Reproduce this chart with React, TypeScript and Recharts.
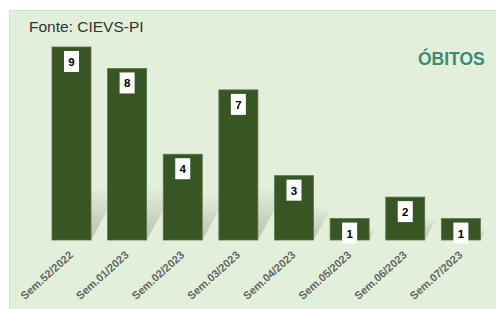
import React from "react"
import { BarChart, Bar, XAxis, YAxis, LabelList } from "recharts"

const weeks = [
  "Sem.52/2022",
  "Sem.01/2023",
  "Sem.02/2023",
  "Sem.03/2023",
  "Sem.04/2023",
  "Sem.05/2023",
  "Sem.06/2023",
  "Sem.07/2023",
]
const obitos = [9, 8, 4, 7, 3, 1, 2, 1]

const data = weeks.map((w, i) => ({ week: w, obitos: obitos[i] }))

const BAR = "#375623"

function ShadowBar(props: any) {
  const x = Number(props.x)
  const y = Number(props.y)
  const width = Number(props.width)
  const height = Number(props.height)
  const yb = y + height
  const sh = Math.min(height * 0.5, 50)
  const lean = sh * 0.55
  // stacked translucent slices fading upward, a soft cast shadow
  const steps = 10
  const slices = []
  for (let s = 0; s < steps; s++) {
    const t0 = s / steps
    const t1 = (s + 1) / steps
    const pts = `${x + lean * t0},${yb - sh * t0} ${x + width + lean * t0},${yb - sh * t0} ${x + width + lean * t1},${yb - sh * t1} ${x + lean * t1},${yb - sh * t1}`
    slices.push(<polygon key={s} points={pts} fill="#80887b" fillOpacity={0.42 * (1 - t0)} />)
  }
  return (
    <g>
      {slices}
      <rect x={x} y={y} width={width} height={height} fill={BAR} stroke="#58774a" strokeWidth={0.8} />
    </g>
  )
}

function ValueLabel(props: any) {
  const { x, y, width, value } = props
  const cx = x + width / 2
  return (
    <g>
      <rect x={cx - 7.5} y={y + 4} width={15} height={21} fill="#ffffff" />
      <text
        x={cx}
        y={y + 19}
        textAnchor="middle"
        fontFamily="Liberation Sans, Arial, sans-serif"
        fontWeight="bold"
        fontSize={11.5}
        fill="#000000"
      >
        {value}
      </text>
    </g>
  )
}

function WeekTick(props: any) {
  const { x, y, payload } = props
  const ax = x + 2
  const ay = y + 8
  return (
    <text
      x={ax}
      y={ay}
      textAnchor="end"
      transform={`rotate(-42, ${ax}, ${ay})`}
      fontFamily="Liberation Sans, Arial, sans-serif"
      fontWeight="bold"
      fontSize={11}
      fill="#666666"
    >
      {payload.value}
    </text>
  )
}

export default function App() {
  return (
    <div style={{ position: "fixed", left: 0, top: 0, width: 496, height: 309, background: "#ffffff" }}>
      <div
        style={{
          position: "absolute",
          left: 9,
          top: 10,
          width: 487,
          height: 299,
          background: "#e2efda",
          borderTop: "1px solid #d9d9d9",
          borderLeft: "1px solid #d9d9d9",
          boxSizing: "border-box",
        }}
      />
      <div
        style={{
          position: "absolute",
          left: 29,
          top: 18,
          fontFamily: "Liberation Sans, Arial, sans-serif",
          fontSize: 15.5,
          color: "#333333",
        }}
      >
        Fonte: CIEVS-PI
      </div>
      <div
        style={{
          position: "absolute",
          left: 418,
          top: 49,
          fontFamily: "Liberation Sans, Arial, sans-serif",
          fontSize: 17.5,
          fontWeight: "bold",
          color: "#3b8a78",
        }}
      >
        ÓBITOS
      </div>
      <div style={{ position: "absolute", left: 0, top: 0 }}>
        <BarChart width={496} height={309} data={data} margin={{ top: 47, right: 7, left: 44, bottom: 0 }}>
          <XAxis
            dataKey="week"
            height={69}
            axisLine={false}
            tickLine={false}
            interval={0}
            tick={<WeekTick />}
          />
          <YAxis hide domain={[0, 9]} />
          <Bar dataKey="obitos" barSize={39} shape={(p: any) => <ShadowBar {...p} />} isAnimationActive={false}>
            <LabelList dataKey="obitos" content={<ValueLabel />} />
          </Bar>
        </BarChart>
      </div>
    </div>
  )
}
